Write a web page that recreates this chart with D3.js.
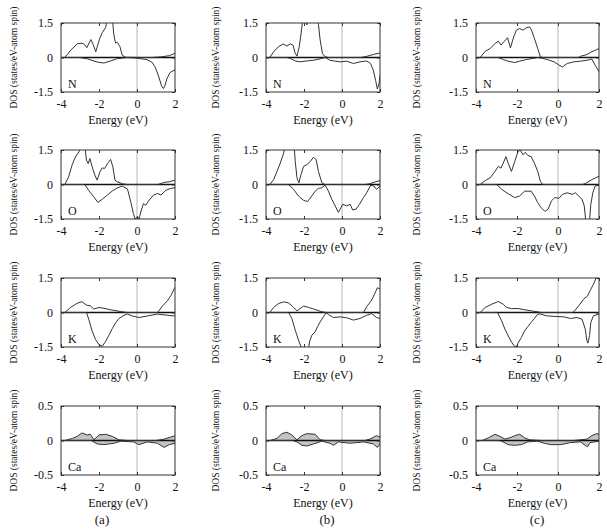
<!DOCTYPE html>
<html>
<head>
<meta charset="utf-8">
<title>DOS panels</title>
<style>
body { margin: 0; background: #fff; }
svg { background: #fff; }
text { font-family: "Liberation Serif", "DejaVu Serif", serif; fill: #111; }
</style>
</head>
<body>
<div id="chart"></div>
<script src="https://d3js.org/d3.v7.min.js"></script>
<script>
// axis ticks and labels
var energyTicks = [-4, -2, 0, 2];
var dosTicks = [-1.5, 0, 1.5];
var caTicks = [-0.5, 0, 0.5];
var elements = ["N", "O", "K", "Ca"];
var columnLabels = ["(a)", "(b)", "(c)"];

// spin-up / spin-down DOS, [energy, value]
var a_N_up = [[-4,0],[-3.8,0],[-3.65,0.15],[-3.48,0.33],[-3.13,0.6],[-2.9,0.62],[-2.78,0.58],[-2.64,0.43],[-2.43,0.78],[-2.3,0.55],[-2.17,0.25],[-1.97,0.81],[-1.83,1.08],[-1.65,1.3],[-1.57,1.7],[-1.3,1.7],[-1.27,1.45],[-1.22,1.0],[-1.13,0.63],[-1.04,0.66],[-0.9,0.48],[-0.78,0.1],[-0.6,0.01],[0,0],[0.8,0],[1.3,0.03],[1.7,0.08],[2,0.18]];
var a_N_dn = [[-4,0],[-3,0],[-2.6,-0.06],[-2.09,-0.2],[-1.74,-0.24],[-1.39,-0.15],[-1.04,-0.05],[-0.52,0],[0,-0.03],[0.52,-0.09],[0.78,-0.2],[0.96,-0.42],[1.13,-0.8],[1.3,-1.25],[1.39,-1.35],[1.48,-1.2],[1.57,-0.93],[1.74,-0.65],[2,-0.54]];
var a_O_up = [[-4,0],[-3.8,0],[-3.6,0.33],[-3.42,0.84],[-3.24,1.2],[-3.06,1.42],[-2.9,1.7],[-2.75,1.7],[-2.66,1.06],[-2.57,0.91],[-2.48,1.13],[-2.36,0.77],[-2.22,0.41],[-2.1,0.19],[-1.95,0.55],[-1.83,0.72],[-1.7,0.7],[-1.56,0.9],[-1.39,1.09],[-1.27,0.77],[-1.16,0.19],[-1.04,0.12],[-0.77,0.03],[-0.5,0],[1.1,0],[1.43,0.09],[1.7,0.12],[2,0.19]];
var a_O_dn = [[-4,0],[-2.75,0],[-2.55,-0.25],[-2.27,-0.54],[-2.06,-0.78],[-1.83,-0.64],[-1.56,-0.46],[-1.3,-0.28],[-1.04,-0.15],[-0.77,-0.07],[-0.5,-0.2],[-0.33,-0.75],[-0.19,-1.26],[-0.1,-1.5],[0.02,-1.4],[0.11,-1.5],[0.2,-1.19],[0.34,-0.83],[0.46,-0.9],[0.64,-0.68],[0.87,-0.46],[1.08,-0.39],[1.26,-0.46],[1.52,-0.25],[1.78,-0.17],[2,-0.14]];
var a_K_up = [[-4,0],[-3.8,0],[-3.5,0.22],[-3.15,0.4],[-2.9,0.47],[-2.66,0.32],[-2.45,0.29],[-2.27,0.15],[-2.0,0.22],[-1.74,0.18],[-1.39,0.12],[-0.86,0.04],[-0.5,0],[1.08,0],[1.35,0.29],[1.6,0.51],[1.78,0.73],[2,1.1]];
var a_K_dn = [[-4,0],[-2.66,0],[-2.54,-0.29],[-2.36,-0.81],[-2.18,-1.18],[-2.0,-1.4],[-1.83,-1.47],[-1.65,-1.25],[-1.48,-0.99],[-1.3,-0.7],[-1.12,-0.44],[-0.95,-0.26],[-0.68,-0.12],[-0.5,-0.07],[-0.24,-0.15],[0.11,-0.22],[0.55,-0.15],[1.08,-0.07],[1.6,-0.12],[2,-0.15]];
var a_Ca_up = [[-4,0],[-3.8,0],[-3.4,0.03],[-3.15,0.06],[-2.9,0.11],[-2.62,0.08],[-2.45,0.09],[-2.27,0.01],[-2.0,0.08],[-1.65,0.09],[-1.3,0.06],[-0.95,0.01],[-0.5,0],[1.0,0],[1.43,0.02],[2,0.07]];
var a_Ca_dn = [[-4,0],[-2.4,0],[-2.1,-0.05],[-1.74,-0.06],[-1.2,-0.04],[-0.85,-0.01],[-0.18,-0.02],[0.1,-0.06],[0.55,-0.02],[1.08,-0.04],[1.43,-0.1],[1.7,-0.06],[2,-0.04]];

var b_N_up = [[-4,0],[-3.8,0],[-3.6,0.25],[-3.34,0.47],[-3.1,0.59],[-2.9,0.5],[-2.72,0.59],[-2.58,0.54],[-2.46,0.18],[-2.37,0.06],[-2.25,0.47],[-2.15,1.06],[-2.06,1.7],[-1.9,1.7],[-1.85,1.42],[-1.8,1.7],[-1.3,1.7],[-1.24,1.43],[-1.15,0.76],[-1.03,0.18],[-0.89,0.03],[-0.7,0],[1.0,0],[1.3,0.05],[1.65,0.13],[2,0.2]];
var b_N_dn = [[-4,0],[-2.9,0],[-2.72,-0.04],[-2.46,-0.15],[-2.2,-0.19],[-1.85,-0.15],[-1.5,-0.12],[-1.15,-0.06],[-0.89,0],[-0.63,-0.12],[-0.36,-0.16],[-0.1,-0.19],[0.25,-0.16],[0.6,-0.26],[0.95,-0.19],[1.3,-0.15],[1.5,-0.26],[1.65,-0.56],[1.77,-1.0],[1.86,-1.37],[1.95,-1.15],[2,-0.78]];
var b_O_up = [[-4,0],[-3.8,0],[-3.6,0.21],[-3.42,0.57],[-3.25,0.93],[-3.07,1.36],[-2.99,1.7],[-2.52,1.7],[-2.46,1.0],[-2.37,0.29],[-2.27,0.07],[-2.16,0.43],[-2.02,0.79],[-1.85,0.86],[-1.67,1.0],[-1.5,1.19],[-1.36,1.07],[-1.24,0.57],[-1.06,0.07],[-0.89,0],[1.2,0],[1.47,0.03],[1.73,0.11],[2,0.17]];
var b_O_dn = [[-4,0],[-2.81,0],[-2.55,-0.21],[-2.29,-0.5],[-2.02,-0.69],[-1.81,-0.74],[-1.59,-0.5],[-1.41,-0.29],[-1.24,-0.17],[-1.06,-0.14],[-0.89,-0.03],[-0.71,-0.29],[-0.54,-0.64],[-0.36,-0.93],[-0.19,-1.21],[-0.1,-1.07],[0.04,-0.86],[0.25,-0.93],[0.43,-0.86],[0.56,-1.11],[0.74,-1.07],[0.92,-0.86],[1.13,-0.57],[1.3,-0.36],[1.51,-0.03],[1.68,-0.07],[1.82,-0.21],[2,-0.07]];
var b_K_up = [[-4,0],[-3.8,0],[-3.6,0.22],[-3.34,0.39],[-3.07,0.46],[-2.81,0.42],[-2.58,0.25],[-2.37,0.07],[-2.2,0.17],[-2.02,0.28],[-1.76,0.22],[-1.41,0.13],[-1.06,0.03],[-0.8,0],[1.13,0],[1.3,0.25],[1.56,0.54],[1.73,0.83],[1.86,1.07],[2,1.04]];
var b_K_dn = [[-4,0],[-2.81,0],[-2.64,-0.26],[-2.46,-0.77],[-2.29,-1.2],[-2.15,-1.5],[-2.0,-1.7],[-1.78,-1.7],[-1.71,-1.28],[-1.59,-0.99],[-1.41,-0.84],[-1.29,-0.62],[-1.15,-0.41],[-0.98,-0.19],[-0.84,-0.01],[-0.71,-0.09],[-0.45,-0.22],[-0.1,-0.19],[0.25,-0.23],[0.6,-0.33],[0.95,-0.26],[1.3,-0.12],[1.56,-0.05],[1.82,-0.22],[2,-0.26]];
var b_Ca_up = [[-4,0],[-3.8,0],[-3.42,0.03],[-3.16,0.1],[-2.9,0.12],[-2.64,0.08],[-2.37,0.01],[-2.11,0.07],[-1.85,0.1],[-1.41,0.09],[-1.15,0.01],[-0.89,0],[1.2,0],[1.47,0.02],[1.82,0.07],[2,0.05]];
var b_Ca_dn = [[-4,0],[-2.6,0],[-2.37,-0.02],[-2.11,-0.07],[-1.85,-0.08],[-1.5,-0.05],[-1.06,-0.01],[-0.63,-0.04],[-0.45,-0.07],[-0.19,-0.02],[0.43,-0.04],[1.13,-0.02],[1.65,-0.05],[1.86,-0.1],[2,-0.05]];

var c_N_up = [[-4,0],[-3.8,0],[-3.55,0.27],[-3.31,0.39],[-3.07,0.61],[-2.91,0.71],[-2.78,0.54],[-2.64,0.68],[-2.46,0.86],[-2.32,0.42],[-2.16,0.9],[-2.03,1.19],[-1.87,1.26],[-1.71,1.19],[-1.55,1.29],[-1.39,1.33],[-1.31,1.23],[-1.15,0.83],[-0.99,0.39],[-0.86,0.03],[-0.75,0],[1.0,0],[1.09,0.05],[1.41,0.13],[1.65,0.25],[1.84,0.32],[2,0.39]];
var c_N_dn = [[-4,0],[-2.91,0],[-2.67,-0.09],[-2.43,-0.16],[-2.11,-0.22],[-1.87,-0.16],[-1.55,-0.09],[-1.23,-0.04],[-0.99,0],[-0.75,-0.04],[-0.51,-0.09],[-0.19,-0.19],[0.05,-0.33],[0.21,-0.41],[0.45,-0.26],[0.77,-0.19],[1.09,-0.16],[1.41,-0.12],[1.65,-0.07],[1.81,-0.33],[2,-0.62]];
var c_O_up = [[-4,0],[-3.8,0],[-3.55,0.17],[-3.31,0.29],[-3.07,0.57],[-2.91,0.79],[-2.78,0.71],[-2.67,0.93],[-2.54,1.21],[-2.43,0.93],[-2.27,0.57],[-2.11,1.0],[-1.95,1.43],[-1.84,1.5],[-1.71,1.29],[-1.6,1.4],[-1.47,1.26],[-1.31,1.21],[-1.15,0.93],[-0.99,0.57],[-0.86,0.14],[-0.75,0],[1.2,0],[1.33,0.04],[1.65,0.21],[2,0.36]];
var c_O_dn = [[-4,0],[-2.99,0],[-2.75,-0.21],[-2.43,-0.4],[-2.11,-0.57],[-1.87,-0.5],[-1.63,-0.29],[-1.31,-0.29],[-1.15,-0.5],[-0.99,-0.79],[-0.83,-1.0],[-0.64,-1.17],[-0.48,-1.07],[-0.32,-0.71],[-0.16,-0.57],[0.05,-0.6],[0.21,-0.43],[0.45,-0.36],[0.69,-0.43],[0.85,-0.36],[1.01,-0.5],[1.17,-0.64],[1.28,-0.93],[1.37,-1.7],[1.53,-1.7],[1.6,-0.86],[1.7,-0.36],[1.81,-0.07],[2,-0.03]];
var c_K_up = [[-4,0],[-3.8,0],[-3.55,0.22],[-3.23,0.36],[-2.91,0.48],[-2.67,0.36],[-2.51,0.22],[-2.27,0.17],[-1.95,0.17],[-1.63,0.12],[-1.31,0.07],[-0.99,0.03],[-0.83,0],[0.7,0],[0.77,0.03],[1.01,0.29],[1.25,0.58],[1.44,0.72],[1.6,1.01],[1.73,1.23],[1.86,1.5],[2,1.8]];
var c_K_dn = [[-4,0],[-2.95,0],[-2.75,-0.36],[-2.59,-0.72],[-2.43,-1.01],[-2.27,-1.28],[-2.14,-1.45],[-2.03,-1.5],[-1.95,-1.33],[-1.79,-1.09],[-1.63,-0.8],[-1.47,-0.61],[-1.31,-0.43],[-1.15,-0.26],[-0.99,-0.07],[-0.83,-0.07],[-0.59,-0.14],[-0.19,-0.17],[0.29,-0.19],[0.61,-0.26],[0.93,-0.22],[1.17,-0.29],[1.33,-0.72],[1.41,-1.23],[1.46,-1.33],[1.54,-1.0],[1.6,-0.43],[1.73,-0.14],[2,-0.07]];
var c_Ca_up = [[-4,0],[-3.7,0],[-3.39,0.04],[-3.07,0.09],[-2.83,0.06],[-2.59,0.02],[-2.35,0.04],[-2.11,0.07],[-1.87,0.09],[-1.63,0.04],[-1.39,0.01],[-0.83,0],[0.77,0],[1.41,0.02],[1.65,0.07],[1.89,0.1],[2,0.09]];
var c_Ca_dn = [[-4,0],[-2.9,0],[-2.75,-0.01],[-2.43,-0.06],[-2.11,-0.07],[-1.79,-0.06],[-1.47,-0.02],[-0.99,-0.01],[-0.67,-0.04],[-0.35,-0.06],[0.13,-0.06],[0.61,-0.03],[1.09,-0.02],[1.33,-0.07],[1.44,-0.09],[1.57,-0.03],[2,-0.01]];

var curves = [
  [[a_N_up, a_N_dn], [a_O_up, a_O_dn], [a_K_up, a_K_dn], [a_Ca_up, a_Ca_dn]],
  [[b_N_up, b_N_dn], [b_O_up, b_O_dn], [b_K_up, b_K_dn], [b_Ca_up, b_Ca_dn]],
  [[c_N_up, c_N_dn], [c_O_up, c_O_dn], [c_K_up, c_K_dn], [c_Ca_up, c_Ca_dn]]
];

// layout of the 3 x 4 grid
var cols = [
  {x: 61, w: 114, ylab: 14, sub: 102},
  {x: 266, w: 114, ylab: 216, sub: 327},
  {x: 476, w: 123, ylab: 417, sub: 537}
];
var rowTops = [23, 150, 278, 406];
var plotH = 69;

var svg = d3.select("#chart").append("svg")
  .attr("width", 607)
  .attr("height", 532);

var defs = svg.append("defs");

cols.forEach(function(c, ci) {
  rowTops.forEach(function(top, ri) {
    var isCa = ri === 3;
    var lim = isCa ? 0.5 : 1.5;
    var x = d3.scaleLinear().domain([-4, 2]).range([0, c.w]);
    var y = d3.scaleLinear().domain([-lim, lim]).range([plotH, 0]);

    var g = svg.append("g").attr("transform", "translate(" + c.x + "," + top + ")");
    var clipId = "clip" + ci + ri;
    defs.append("clipPath").attr("id", clipId)
      .append("rect").attr("width", c.w).attr("height", plotH);

    var body = g.append("g").attr("clip-path", "url(#" + clipId + ")");

    // fermi level
    body.append("line")
      .attr("x1", x(0)).attr("x2", x(0))
      .attr("y1", 0).attr("y2", plotH)
      .attr("stroke", "#b8b8b8").attr("stroke-width", 1);

    var line = d3.line().x(function(d) { return x(d[0]); }).y(function(d) { return y(d[1]); });
    var area = d3.area().x(function(d) { return x(d[0]); }).y0(y(0)).y1(function(d) { return y(d[1]); });

    var up = curves[ci][ri][0], dn = curves[ci][ri][1];
    if (isCa) {
      // the d-orbital lines sit so close they read as a grey band
      [up, dn].forEach(function(s) {
        body.append("path").datum(s).attr("d", area)
          .attr("fill", "#c4c4c4").attr("stroke", "none");
      });
    }

    body.append("line")
      .attr("x1", 0).attr("x2", c.w)
      .attr("y1", y(0)).attr("y2", y(0))
      .attr("stroke", "#111").attr("stroke-width", 1.3);

    [up, dn].forEach(function(s) {
      body.append("path").datum(s).attr("d", line)
        .attr("fill", "none").attr("stroke", "#333").attr("stroke-width", 1);
    });

    g.append("rect").attr("width", c.w).attr("height", plotH)
      .attr("fill", "none").attr("stroke", "#333").attr("stroke-width", 1);

    var yt = isCa ? caTicks : dosTicks;

    var ax = g.append("g").attr("transform", "translate(0," + plotH + ")")
      .call(d3.axisBottom(x).tickValues(energyTicks).tickSizeInner(-3).tickSizeOuter(0).tickPadding(7)
        .tickFormat(function(d) { return d < 0 ? "-" + Math.abs(d) : d; }));
    var ay = g.append("g")
      .call(d3.axisLeft(y).tickValues(yt).tickSizeInner(-3).tickSizeOuter(0).tickPadding(8)
        .tickFormat(function(d) { return d === 0 ? "0" : (d < 0 ? "-" + Math.abs(d) : d); }));
    var at = g.append("g")
      .call(d3.axisTop(x).tickValues(energyTicks).tickSizeInner(-3).tickSizeOuter(0).tickFormat(""));
    var ar = g.append("g").attr("transform", "translate(" + c.w + ",0)")
      .call(d3.axisRight(y).tickValues(yt).tickSizeInner(-3).tickSizeOuter(0).tickFormat(""));

    [ax, ay, at, ar].forEach(function(a) {
      a.select(".domain").remove();
      a.selectAll(".tick line").attr("stroke", "#333");
      a.selectAll("text").style("font-family", "Liberation Serif, serif").style("font-size", "12px").attr("fill", "#111");
    });

    g.append("text")
      .attr("x", 7).attr("y", plotH - 4)
      .style("font-size", "12px")
      .text(elements[ri]);

    g.append("text")
      .attr("x", c.w / 2).attr("y", plotH + 32)
      .attr("text-anchor", "middle")
      .style("font-size", "12px")
      .text("Energy (eV)");

    svg.append("text")
      .attr("transform", "translate(" + c.ylab + "," + (top + plotH / 2) + ") rotate(-90)")
      .attr("text-anchor", "middle")
      .attr("dy", "0.35em")
      .style("font-size", "9.5px")
      .text("DOS (states/eV-atom spin)");
  });

  svg.append("text")
    .attr("x", c.sub).attr("y", 524)
    .attr("text-anchor", "middle")
    .style("font-size", "13px")
    .text(columnLabels[ci]);
});
</script>
</body>
</html>
